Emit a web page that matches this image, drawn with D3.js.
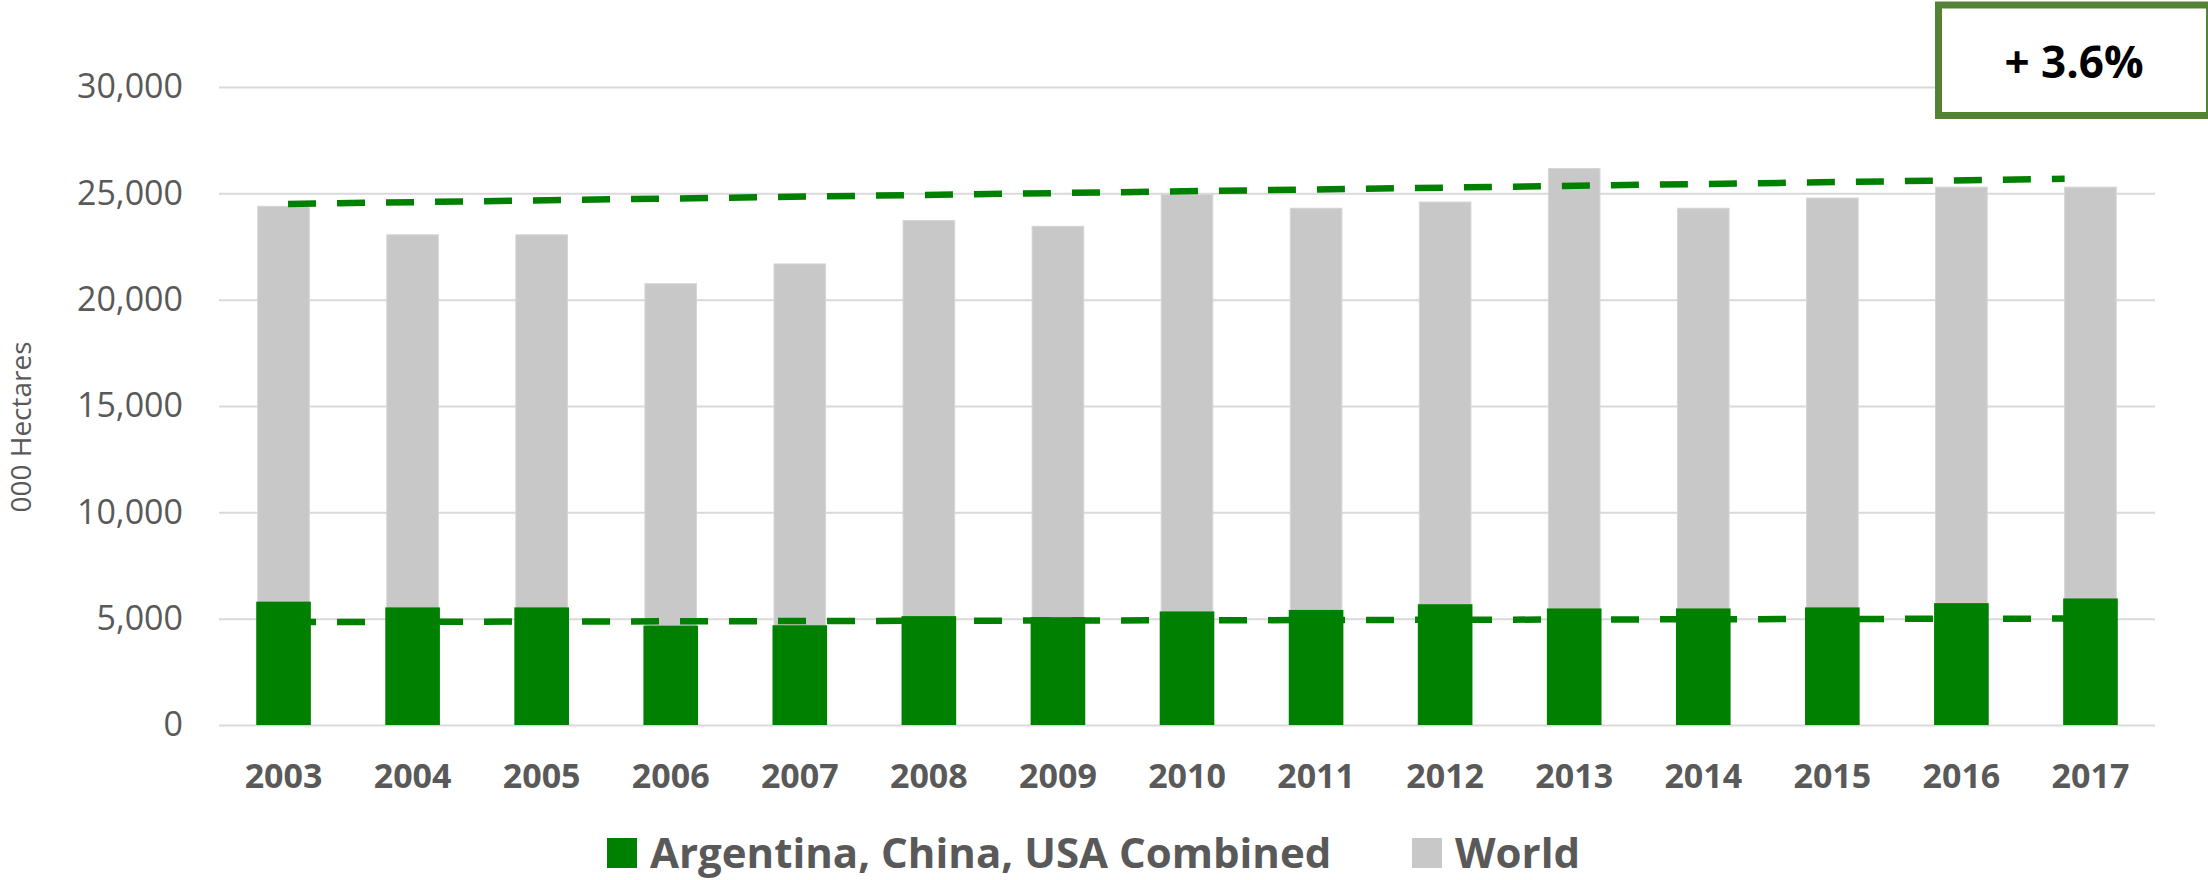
<!DOCTYPE html>
<html>
<head>
<meta charset="utf-8">
<script src="https://cdn.jsdelivr.net/npm/d3@7"></script>
<style>
  html, body { margin: 0; padding: 0; background: #ffffff; }
  svg { display: block; }
  text { font-family: "Open Sans", "Noto Sans", sans-serif; }
</style>
</head>
<body>
<svg id="chart" width="2208" height="880"></svg>
<script>
// Planted area, thousand hectares
const years = ["2003","2004","2005","2006","2007","2008","2009","2010","2011","2012","2013","2014","2015","2016","2017"];
const combined = [5800, 5530, 5530, 4670, 4690, 5120, 5070, 5340, 5410, 5680, 5480, 5480, 5530, 5730, 5950];
const world = [24390, 23050, 23050, 20750, 21680, 23720, 23450, 24950, 24300, 24590, 26170, 24300, 24780, 25290, 25290];
const yTicks = [0, 5000, 10000, 15000, 20000, 25000, 30000];

// Trend lines: start / end year position and value
const trendYears = [2003, 2016.8];
const trendWorld = [24500, 25680];
const trendCombined = [4840, 5005];

const seriesNames = ["Argentina, China, USA Combined", "World"];
const growthLabel = "+ 3.6%";

const GREEN = "#008000";
const GREY = "#c8c8c8";
const TEXT = "#595959";

const svg = d3.select("#chart");
const plot = { left: 219, right: 2155, top: 87, bottom: 725 };

const x = d3.scaleBand()
  .domain(years)
  .range([plot.left, plot.right])
  .paddingInner(0.6)
  .paddingOuter(0.3);

const y = d3.scaleLinear()
  .domain([0, 30000])
  .range([plot.bottom, plot.top]);

const centerOf = d3.scaleLinear()
  .domain([+years[0], +years[years.length - 1]])
  .range([x(years[0]) + x.bandwidth() / 2, x(years[years.length - 1]) + x.bandwidth() / 2]);

// Gridlines and y labels
const yAxis = d3.axisLeft(y)
  .tickValues(yTicks)
  .tickSize(-(plot.right - plot.left))
  .tickPadding(36)
  .tickFormat(d3.format(","));

const gy = svg.append("g")
  .attr("transform", `translate(${plot.left},0)`)
  .call(yAxis);
gy.select(".domain").remove();
gy.selectAll(".tick line").attr("stroke", "#d9d9d9").attr("stroke-width", 2);
gy.selectAll(".tick text")
  .attr("fill", TEXT)
  .attr("font-size", 34)
  .attr("font-family", "'Open Sans', sans-serif");

// World bars (behind)
svg.append("g").selectAll("rect")
  .data(world)
  .join("rect")
  .attr("x", (d, i) => x(years[i]))
  .attr("y", d => y(d))
  .attr("width", x.bandwidth())
  .attr("height", d => y(0) - y(d))
  .attr("fill", GREY)
  .attr("stroke", "#d6d6d6")
  .attr("stroke-width", 1);

// Combined bars (front)
svg.append("g").selectAll("rect")
  .data(combined)
  .join("rect")
  .attr("x", (d, i) => x(years[i]) - 1.5)
  .attr("y", d => y(d))
  .attr("width", x.bandwidth() + 3)
  .attr("height", d => y(0) - y(d))
  .attr("fill", GREEN);

// Dashed trend lines
const trendLine = d3.line()
  .x(d => centerOf(d[0]))
  .y(d => y(d[1]));

[trendWorld, trendCombined].forEach(vals => {
  svg.append("path")
    .datum(trendYears.map((yr, i) => [yr, vals[i]]))
    .attr("d", trendLine)
    .attr("fill", "none")
    .attr("stroke", GREEN)
    .attr("stroke-width", 6.5)
    .attr("stroke-dasharray", "28 21")
    .attr("stroke-dashoffset", 44.5);
});

// Year labels
const xAxis = d3.axisBottom(x).tickSize(0).tickPadding(0);
const gx = svg.append("g")
  .attr("transform", `translate(0,${plot.bottom})`)
  .call(xAxis);
gx.select(".domain").remove();
gx.selectAll(".tick text")
  .attr("dy", null)
  .attr("y", 63)
  .attr("fill", TEXT)
  .attr("font-size", 34)
  .attr("font-weight", "bold")
  .attr("font-family", "'Open Sans', sans-serif");

// Axis title
svg.append("text")
  .attr("transform", "translate(31,427) rotate(-90)")
  .attr("text-anchor", "middle")
  .attr("fill", TEXT)
  .attr("font-size", 28)
  .text("000 Hectares");

// Legend
const legend = svg.append("g");
const legendItems = [
  { name: seriesNames[0], color: GREEN, sx: 607, tx: 650 },
  { name: seriesNames[1], color: GREY, sx: 1412, tx: 1455 }
];
legendItems.forEach(it => {
  legend.append("rect")
    .attr("x", it.sx).attr("y", 838)
    .attr("width", 30).attr("height", 30)
    .attr("fill", it.color);
  legend.append("text")
    .attr("x", it.tx).attr("y", 868)
    .attr("fill", TEXT)
    .attr("font-size", 42)
    .attr("font-weight", "bold")
    .text(it.name);
});

// Growth callout box
svg.append("rect")
  .attr("x", 1938.5).attr("y", 5)
  .attr("width", 271).attr("height", 110.5)
  .attr("fill", "#ffffff")
  .attr("stroke", "#548235")
  .attr("stroke-width", 7);
svg.append("text")
  .attr("x", 2074).attr("y", 78)
  .attr("text-anchor", "middle")
  .attr("fill", "#000000")
  .attr("font-size", 44)
  .attr("font-weight", "bold")
  .text(growthLabel);
</script>
</body>
</html>
